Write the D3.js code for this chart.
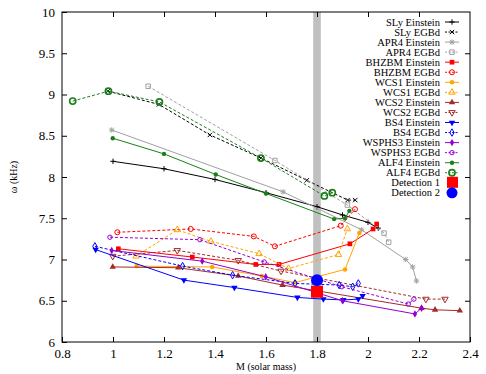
<!DOCTYPE html>
<html>
<head>
<meta charset="utf-8">
<style>
  body { margin: 0; background: #fff; }
  text { font-family: "Liberation Serif", "DejaVu Serif", serif; }
</style>
</head>
<body>
<div id="chart"></div>
<script src="https://d3js.org/d3.v7.min.js"></script>
<script>
// [mass, omega] pairs
const slyEinstein = [[1.0, 8.19], [1.2, 8.1], [1.4, 7.97], [1.6, 7.81], [1.8, 7.64], [1.9, 7.54], [2.0, 7.45], [2.04, 7.38]];
const slyEGBd = [[0.98, 9.04], [1.18, 8.88], [1.38, 8.51], [1.58, 8.23], [1.76, 7.96], [1.92, 7.72], [1.95, 7.72]];
const apr4Einstein = [[0.995, 8.57], [1.667, 7.82], [1.975, 7.36], [2.148, 7.0], [2.175, 6.91], [2.19, 6.74]];
const apr4EGBd = [[1.138, 9.1], [1.635, 8.2], [1.919, 7.66], [2.063, 7.32], [2.081, 7.21]];
const bhzbmEinstein = [[1.021, 7.13], [1.311, 7.03], [1.56, 6.94], [1.651, 6.94], [1.929, 7.19], [2.02, 7.37], [2.034, 7.43]];
const bhzbmEGBd = [[1.017, 7.33], [1.305, 7.37], [1.552, 7.28], [1.635, 7.16], [1.893, 7.41], [1.949, 7.61]];
const wcs1Einstein = [[1.093, 6.92], [1.389, 6.91], [1.583, 6.8], [1.714, 6.72], [1.91, 6.88], [1.966, 7.32]];
const wcs1EGBd = [[1.09, 7.04], [1.252, 7.36], [1.384, 7.22], [1.573, 7.07], [1.688, 6.89], [1.884, 7.06], [1.919, 7.37]];
const wcs2Einstein = [[0.999, 6.91], [1.256, 6.9], [1.491, 6.8], [1.665, 6.69], [2.21, 6.41], [2.263, 6.39], [2.36, 6.38]];
const wcs2EGBd = [[0.999, 7.04], [1.252, 7.11], [1.491, 6.99], [1.659, 6.86], [2.227, 6.52], [2.302, 6.52]];
const bs4Einstein = [[0.932, 7.12], [1.278, 6.75], [1.476, 6.66], [1.723, 6.54], [1.825, 6.52], [1.903, 6.51], [1.962, 6.52], [1.979, 6.56]];
const bs4EGBd = [[0.929, 7.16], [1.273, 6.92], [1.469, 6.81], [1.714, 6.71], [1.887, 6.69], [1.94, 6.67], [1.962, 6.71]];
const wsphs3Einstein = [[0.995, 7.11], [1.35, 6.98], [1.599, 6.79], [1.9, 6.5], [2.184, 6.34], [2.21, 6.41]];
const wsphs3EGBd = [[0.988, 7.27], [1.341, 7.24], [1.593, 6.97], [1.897, 6.67], [2.158, 6.46], [2.18, 6.52]];
const alf4Einstein = [[0.999, 8.47], [1.2, 8.28], [1.403, 8.03], [1.6, 7.8], [1.867, 7.49], [1.91, 7.5], [1.927, 7.59]];
const alf4EGBd = [[0.842, 8.92], [0.982, 9.04], [1.182, 8.91], [1.58, 8.23], [1.829, 7.77], [1.86, 7.81]];
const detection1 = [1.8, 6.61];
const detection2 = [1.8, 6.75];
const bandRange = [1.785, 1.815];

const xTicks = [0.8, 1, 1.2, 1.4, 1.6, 1.8, 2, 2.2, 2.4];
const yTicks = [6, 6.5, 7, 7.5, 8, 8.5, 9, 9.5, 10];

const series = [
  { name: 'SLy Einstein', data: slyEinstein, color: '#000000', dash: null, marker: 'plus' },
  { name: 'SLy EGBd', data: slyEGBd, color: '#000000', dash: '3,2', marker: 'cross' },
  { name: 'APR4 Einstein', data: apr4Einstein, color: '#a0a0a0', dash: null, marker: 'star' },
  { name: 'APR4 EGBd', data: apr4EGBd, color: '#a0a0a0', dash: '3,2', marker: 'squareOpen' },
  { name: 'BHZBM Einstein', data: bhzbmEinstein, color: '#ff0000', dash: null, marker: 'square' },
  { name: 'BHZBM EGBd', data: bhzbmEGBd, color: '#ff0000', dash: '3,2', marker: 'circleOpen' },
  { name: 'WCS1 Einstein', data: wcs1Einstein, color: '#ffa500', dash: null, marker: 'circle' },
  { name: 'WCS1 EGBd', data: wcs1EGBd, color: '#ffa500', dash: '3,2', marker: 'triOpen' },
  { name: 'WCS2 Einstein', data: wcs2Einstein, color: '#a52a2a', dash: null, marker: 'tri' },
  { name: 'WCS2 EGBd', data: wcs2EGBd, color: '#a52a2a', dash: '3,2', marker: 'triDownOpen' },
  { name: 'BS4 Einstein', data: bs4Einstein, color: '#0000ff', dash: null, marker: 'triDown' },
  { name: 'BS4 EGBd', data: bs4EGBd, color: '#0000ff', dash: '3,2', marker: 'diamondOpen' },
  { name: 'WSPHS3 Einstein', data: wsphs3Einstein, color: '#9400d3', dash: null, marker: 'diamond' },
  { name: 'WSPHS3 EGBd', data: wsphs3EGBd, color: '#9400d3', dash: '3,2', marker: 'pentOpen' },
  { name: 'ALF4 Einstein', data: alf4Einstein, color: '#1a7f1a', dash: null, marker: 'pent' },
  { name: 'ALF4 EGBd', data: alf4EGBd, color: '#1a7f1a', dash: '3,2', marker: 'bigCircleOpen' }
];

const width = 486, height = 374;
const margin = { left: 62, right: 16, top: 12, bottom: 32 };

const svg = d3.select('#chart').append('svg')
  .attr('width', width)
  .attr('height', height);

const x = d3.scaleLinear().domain([0.8, 2.4]).range([margin.left, width - margin.right]);
const y = d3.scaleLinear().domain([6, 10]).range([height - margin.bottom, margin.top]);

// shaded band
svg.append('rect')
  .attr('x', x(bandRange[0]))
  .attr('y', y(10))
  .attr('width', x(bandRange[1]) - x(bandRange[0]))
  .attr('height', y(6) - y(10))
  .attr('fill', '#c0c0c0');

// axes, ticks inward on all four sides
const tl = 5;
svg.append('g').attr('transform', `translate(0,${y(6)})`)
  .call(d3.axisBottom(x).tickValues(xTicks).tickSizeInner(-tl).tickSizeOuter(0).tickPadding(7).tickFormat(d3.format('')))
  .call(g => g.select('.domain').remove());
svg.append('g').attr('transform', `translate(0,${y(10)})`)
  .call(d3.axisTop(x).tickValues(xTicks.slice(1, -1)).tickSizeInner(-tl).tickSizeOuter(0).tickFormat(''))
  .call(g => g.select('.domain').remove());
svg.append('g').attr('transform', `translate(${x(0.8)},0)`)
  .call(d3.axisLeft(y).tickValues(yTicks).tickSizeInner(-tl).tickSizeOuter(0).tickPadding(7).tickFormat(d3.format('')))
  .call(g => g.select('.domain').remove());
svg.append('g').attr('transform', `translate(${x(2.4)},0)`)
  .call(d3.axisRight(y).tickValues(yTicks.slice(1, -1)).tickSizeInner(-tl).tickSizeOuter(0).tickFormat(''))
  .call(g => g.select('.domain').remove());

svg.selectAll('.tick text').attr('font-size', 13).attr('font-family', '"Liberation Serif", serif').attr('fill', '#000');
svg.selectAll('.tick line').attr('stroke', '#000');

svg.append('rect')
  .attr('x', x(0.8)).attr('y', y(10))
  .attr('width', x(2.4) - x(0.8)).attr('height', y(6) - y(10))
  .attr('fill', 'none').attr('stroke', '#000').attr('stroke-width', 1);

svg.append('text')
  .attr('x', (x(0.8) + x(2.4)) / 2).attr('y', height - 4)
  .attr('text-anchor', 'middle').attr('font-size', 10)
  .text('M (solar mass)');
svg.append('text')
  .attr('transform', `translate(17,${(y(6) + y(10)) / 2}) rotate(-90)`)
  .attr('text-anchor', 'middle').attr('font-size', 10)
  .text('ω (kHz)');

// markers
function drawMarker(g, type, cx, cy, color) {
  const s = 2.2;
  if (type === 'plus' || type === 'cross' || type === 'star') {
    let p = '';
    if (type !== 'cross') p += `M${cx - s - 0.5},${cy}H${cx + s + 0.5}M${cx},${cy - s - 0.5}V${cy + s + 0.5}`;
    if (type !== 'plus') p += `M${cx - s},${cy - s}L${cx + s},${cy + s}M${cx - s},${cy + s}L${cx + s},${cy - s}`;
    g.append('path').attr('d', p).attr('stroke', color).attr('stroke-width', 1).attr('fill', 'none');
    return;
  }
  const open = type.endsWith('Open');
  const base = type.replace('Open', '');
  let sym, size;
  if (base === 'square') { sym = d3.symbolSquare; size = open ? 20 : 22; }
  else if (base === 'circle') { sym = d3.symbolCircle; size = open ? 20 : 16; }
  else if (base === 'bigCircle') { sym = d3.symbolCircle; size = 30; }
  else if (base === 'tri' || base === 'triDown') { sym = d3.symbolTriangle; size = 18; }
  else if (base === 'diamond') { sym = d3.symbolDiamond; size = 16; }
  else if (base === 'pent') { sym = d3.symbolCircle; size = 15; }
  const path = g.append('path')
    .attr('d', d3.symbol().type(sym).size(size)())
    .attr('transform', `translate(${cx},${cy})` + (base === 'triDown' ? ' rotate(180)' : ''));
  if (open) {
    path.attr('fill', 'none').attr('stroke', color)
      .attr('stroke-width', base === 'bigCircle' ? 1.6 : 1);
  } else {
    path.attr('fill', color);
  }
}

const line = d3.line().x(d => x(d[0])).y(d => y(d[1]));
const plot = svg.append('g');

series.forEach(s => {
  plot.append('path')
    .datum(s.data)
    .attr('d', line)
    .attr('fill', 'none')
    .attr('stroke', s.color)
    .attr('stroke-width', 1)
    .attr('stroke-dasharray', s.dash);
  const mg = plot.append('g');
  s.data.forEach(d => drawMarker(mg, s.marker, x(d[0]), y(d[1]), s.color));
});

// detections
plot.append('rect')
  .attr('x', x(detection1[0]) - 6).attr('y', y(detection1[1]) - 6)
  .attr('width', 12).attr('height', 12).attr('fill', '#ff0000');
plot.append('circle')
  .attr('cx', x(detection2[0])).attr('cy', y(detection2[1]))
  .attr('r', 6).attr('fill', '#0000ff');

// legend
const legend = svg.append('g').attr('id', 'legend');
const legendX = 440, legendY0 = 22, legendStep = 10.05;
series.forEach((s, i) => {
  const ly = legendY0 + i * legendStep;
  legend.append('text')
    .attr('x', legendX).attr('y', ly + 3.5)
    .attr('text-anchor', 'end').attr('font-size', 10.5)
    .text(s.name);
  legend.append('line')
    .attr('x1', legendX + 5).attr('x2', legendX + 19)
    .attr('y1', ly).attr('y2', ly)
    .attr('stroke', s.color).attr('stroke-width', 1)
    .attr('stroke-dasharray', s.dash ? '2,1.5' : null);
  drawMarker(legend, s.marker, legendX + 12, ly, s.color);
});
const d1y = legendY0 + 16 * legendStep;
const d2y = legendY0 + 17 * legendStep;
legend.append('text').attr('x', legendX).attr('y', d1y + 3.5).attr('text-anchor', 'end').attr('font-size', 10.5).text('Detection 1');
legend.append('rect').attr('x', legendX + 7).attr('y', d1y - 6).attr('width', 11).attr('height', 11).attr('fill', '#ff0000');
legend.append('text').attr('x', legendX).attr('y', d2y + 3.5).attr('text-anchor', 'end').attr('font-size', 10.5).text('Detection 2');
legend.append('circle').attr('cx', legendX + 12).attr('cy', d2y).attr('r', 5.5).attr('fill', '#0000ff');
</script>
</body>
</html>
